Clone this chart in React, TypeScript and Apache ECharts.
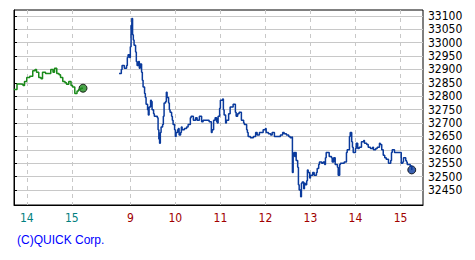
import React, { useEffect, useRef } from "react";
import * as echarts from "echarts";

// Previous day session (tail) – time and price
const prevTimes = [
  "13:43", "13:47", "13:52", "13:55", "13:57", "14:00", "14:04", "14:08", "14:11", "14:13",
  "14:16", "14:19", "14:21", "14:25", "14:29", "14:32", "14:35", "14:37", "14:40", "14:43",
  "14:45", "14:48", "14:51", "14:53", "14:56", "14:59", "15:01", "15:04", "15:07", "15:09",
  "15:12", "15:15",
];
const prevValues = [
  32825, 32846, 32845, 32840, 32855, 32870, 32875, 32895, 32900, 32890,
  32870, 32865, 32890, 32885, 32885, 32900, 32890, 32905, 32885, 32880,
  32870, 32855, 32850, 32845, 32855, 32840, 32835, 32810, 32820, 32825,
  32830, 32830,
];

// Current day session
const currTimes = [
  "08:45", "08:48", "08:49", "08:52", "08:55", "08:56", "08:57", "08:59", "09:00", "09:01",
  "09:02", "09:03", "09:04", "09:05", "09:07", "09:08", "09:09", "09:11", "09:12", "09:13",
  "09:15", "09:16", "09:17", "09:19", "09:20", "09:21", "09:23", "09:24", "09:25", "09:27",
  "09:28", "09:29", "09:31", "09:32", "09:35", "09:36", "09:37", "09:38", "09:39", "09:40",
  "09:41", "09:43", "09:44", "09:45", "09:47", "09:48", "09:49", "09:51", "09:52", "09:53",
  "09:55", "09:56", "09:57", "09:59", "10:00", "10:01", "10:03", "10:04", "10:05", "10:07",
  "10:08", "10:09", "10:12", "10:15", "10:17", "10:20", "10:21", "10:24", "10:27", "10:29",
  "10:32", "10:35", "10:37", "10:43", "10:45", "10:48", "10:49", "10:51", "10:53", "10:55",
  "10:56", "10:57", "10:59", "11:00", "11:03", "11:04", "11:05", "11:07", "11:08", "11:11",
  "11:13", "11:17", "11:20", "11:21", "11:23", "11:25", "11:28", "11:31", "11:32", "11:35",
  "11:36", "11:37", "11:40", "11:44", "11:47", "11:49", "11:52", "11:55", "11:57", "12:00",
  "12:01", "12:04", "12:07", "12:09", "12:12", "12:16", "12:20", "12:23", "12:25", "12:28",
  "12:31", "12:33", "12:35", "12:36", "12:37", "12:38", "12:39", "12:40", "12:41", "12:43",
  "12:44", "12:45", "12:47", "12:48", "12:49", "12:51", "12:52", "12:53", "12:55", "12:56",
  "12:57", "12:59", "13:00", "13:03", "13:05", "13:08", "13:09", "13:11", "13:12", "13:15",
  "13:17", "13:19", "13:20", "13:21", "13:23", "13:25", "13:28", "13:29", "13:31", "13:33",
  "13:36", "13:37", "13:39", "13:40", "13:43", "13:45", "13:48", "13:49", "13:52", "13:53",
  "13:55", "13:56", "13:57", "14:00", "14:01", "14:03", "14:05", "14:08", "14:11", "14:12",
  "14:15", "14:17", "14:20", "14:23", "14:24", "14:27", "14:29", "14:32", "14:33", "14:35",
  "14:37", "14:39", "14:41", "14:44", "14:47", "14:48", "14:49", "14:52", "14:55", "14:57",
  "15:00", "15:01", "15:03", "15:04", "15:07", "15:08", "15:09", "15:12", "15:13", "15:15",
];
const currValues = [
  32885, 32900, 32915, 32905, 32915, 32945, 32955, 32945, 32985, 33065,
  33090, 33030, 33010, 32990, 32965, 32930, 32915, 32930, 32905, 32920,
  32890, 32860, 32835, 32810, 32795, 32770, 32750, 32730, 32760, 32785,
  32780, 32750, 32735, 32725, 32725, 32720, 32675, 32640, 32625, 32665,
  32685, 32695, 32725, 32775, 32780, 32815, 32795, 32775, 32750, 32740,
  32725, 32710, 32695, 32675, 32650, 32665, 32675, 32680, 32655, 32665,
  32685, 32675, 32680, 32685, 32695, 32720, 32725, 32710, 32720, 32710,
  32725, 32705, 32710, 32710, 32705, 32665, 32675, 32710, 32720, 32705,
  32700, 32725, 32755, 32785, 32790, 32750, 32730, 32700, 32710, 32735,
  32760, 32770, 32740, 32725, 32735, 32740, 32710, 32700, 32695, 32675,
  32665, 32650, 32645, 32650, 32665, 32655, 32665, 32665, 32675, 32680,
  32665, 32660, 32655, 32665, 32650, 32650, 32655, 32665, 32660, 32655,
  32650, 32645, 32648, 32515, 32580, 32590, 32575, 32590, 32560, 32535,
  32470, 32450, 32425, 32475, 32480, 32455, 32475, 32470, 32485, 32525,
  32515, 32495, 32505, 32515, 32505, 32515, 32530, 32545, 32555, 32550,
  32555, 32545, 32570, 32590, 32590, 32575, 32570, 32555, 32570, 32545,
  32535, 32505, 32545, 32550, 32550, 32555, 32590, 32600, 32650, 32665,
  32630, 32610, 32590, 32605, 32625, 32605, 32610, 32630, 32635, 32625,
  32620, 32610, 32605, 32610, 32600, 32605, 32610, 32625, 32620, 32600,
  32580, 32570, 32565, 32550, 32560, 32590, 32600, 32590, 32590, 32590,
  32590, 32550, 32555, 32570, 32560, 32555, 32545, 32545, 32540, 32525,
];

// X axis tick labels (hour marks) and which session they belong to
const xTickTimes = ["14:00", "15:00", "09:00", "10:00", "11:00", "12:00", "13:00", "14:00", "15:00"];
const xTickLabels = ["14", "15", "9", "10", "11", "12", "13", "14", "15"];
const xTickSession = ["prev", "prev", "curr", "curr", "curr", "curr", "curr", "curr", "curr"];

// Y axis tick labels
const yTicks = [32450, 32500, 32550, 32600, 32650, 32700, 32750, 32800, 32850, 32900, 32950, 33000, 33050, 33100];

const toMin = (t: string) => {
  const [h, m] = t.split(":").map(Number);
  return h * 60 + m;
};
// compressed timeline: previous day 13:43 -> 0, current day 08:45 -> 140
const prevPos = (t: string) => toMin(t) - toMin("13:43");
const currPos = (t: string) => toMin(t) - toMin("08:45") + 140;

export default function App() {
  const ref = useRef<HTMLDivElement>(null);
  useEffect(() => {
    if (!ref.current) return;
    const chart = echarts.init(ref.current, undefined, { renderer: "svg" });
    const prevData = prevTimes.map((t, i) => [prevPos(t), prevValues[i]]);
    const currData = currTimes.map((t, i) => [currPos(t), currValues[i]]);
    const xTickPos = xTickTimes.map((t, i) => (xTickSession[i] === "prev" ? prevPos(t) : currPos(t)));
    const font = "'Liberation Sans Narrow', 'DejaVu Sans Condensed', 'Liberation Sans', Arial, sans-serif";
    chart.setOption({
      animation: false,
      backgroundColor: "#ffffff",
      grid: {
        left: 14,
        top: 10,
        right: 52,
        bottom: 55,
        show: true,
        borderColor: "#000000",
        borderWidth: 1,
        backgroundColor: "transparent",
      },
      xAxis: {
        type: "value",
        min: 0,
        max: 545,
        axisLine: { show: true, onZero: false, lineStyle: { color: "#000", width: 1 } },
        axisTick: { show: false, customValues: xTickPos },
        splitLine: { show: true, lineStyle: { color: "#c8c8c8", type: [4, 4], width: 1 } },
        axisLabel: {
          customValues: xTickPos,
          margin: 7,
          fontFamily: font,
          fontSize: 12,
          formatter: (v: number) => {
            const i = xTickPos.findIndex((p) => Math.abs(p - v) < 0.01);
            if (i < 0) return "";
            return xTickSession[i] === "prev" ? `{p|${xTickLabels[i]}}` : `{c|${xTickLabels[i]}}`;
          },
          rich: {
            p: { color: "#008080", fontFamily: font, fontSize: 12 },
            c: { color: "#a00000", fontFamily: font, fontSize: 12 },
          },
        },
      },
      yAxis: {
        type: "value",
        position: "right",
        min: 32394,
        max: 33122,
        axisLine: { show: true, lineStyle: { color: "#000", width: 1 } },
        axisTick: { show: true, length: 3, customValues: yTicks, lineStyle: { color: "#000" } },
        splitLine: { show: true, lineStyle: { color: "#c8c8c8", width: 1 } },
        axisLabel: {
          customValues: yTicks,
          margin: 5,
          color: "#000",
          fontFamily: font,
          fontSize: 12,
          formatter: (v: number) => String(Math.round(v)),
        },
      },
      series: [
        {
          type: "line",
          data: prevData,
          showSymbol: false,
          step: "end",
          lineStyle: { color: "#1a8a1a", width: 1.5 },
          itemStyle: { color: "#1a8a1a" },
        },
        {
          type: "line",
          data: currData,
          showSymbol: false,
          step: "end",
          lineStyle: { color: "#0a3a9c", width: 1.5 },
          itemStyle: { color: "#0a3a9c" },
        },
        {
          type: "scatter",
          data: [prevData[prevData.length - 1]],
          symbol: "circle",
          symbolSize: 8,
          itemStyle: { color: "#1e8c1e", borderColor: "#000", borderWidth: 1 },
        },
        {
          type: "scatter",
          data: [currData[currData.length - 1]],
          symbol: "circle",
          symbolSize: 8,
          itemStyle: { color: "#0a3a9c", borderColor: "#000", borderWidth: 1 },
        },
      ],
      graphic: [
        {
          type: "text",
          left: 17,
          top: 234,
          style: {
            text: "(C)QUICK Corp.",
            fill: "#0000ff",
            font: "12px 'Liberation Sans', Arial, sans-serif",
          },
        },
      ],
    });
    return () => chart.dispose();
  }, []);
  return (
    <div
      ref={ref}
      style={{ position: "absolute", left: 0, top: 0, width: 475, height: 260 }}
    />
  );
}
